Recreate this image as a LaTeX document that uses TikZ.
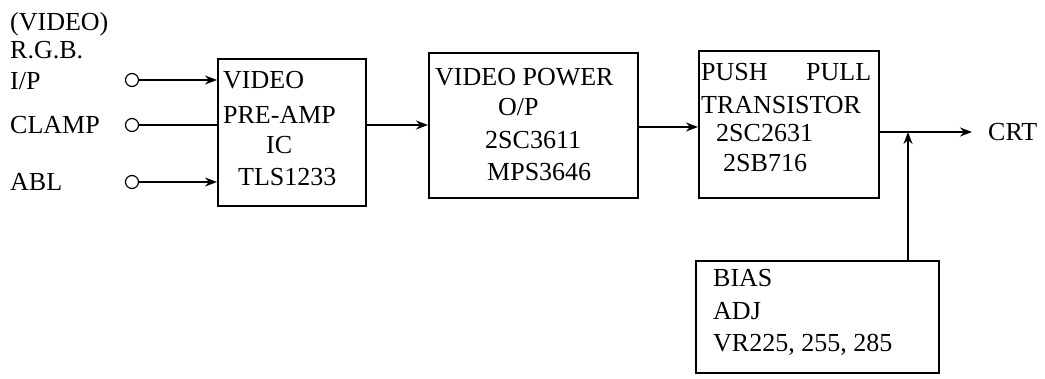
\documentclass[tikz,border=0pt]{standalone}
\usepackage{fontspec}
\setmainfont{Liberation Serif}
\usetikzlibrary{arrows.meta}
\begin{document}
\begin{tikzpicture}[x=1pt,y=-1pt,
  box/.style={draw,line width=1.7pt,inner sep=0pt,anchor=north west},
  lbl/.style={anchor=base west,inner sep=0pt,font=\fontsize{26}{32}\selectfont},
  term/.style={circle,draw,line width=1.2pt,minimum size=13pt,inner sep=0pt},
  wire/.style={line width=1.6pt},
  arr/.style={line width=1.6pt,-{Stealth[length=12pt,width=9pt]}}]
\useasboundingbox (0,0) rectangle (1045,379);
% left labels
\node[lbl] (tvid) at (10,31) {(VIDEO)};
\node[lbl] (trgb) at (10,58.5) {R.G.B.};
\node[lbl] (tip) at (10,90) {I/P};
\node[lbl] (tclamp) at (10,133.5) {CLAMP};
\node[lbl] (tabl) at (10,190.5) {ABL};
% terminals
\node[term] (c1) at (132,80) {};
\node[term] (c2) at (132,125) {};
\node[term] (c3) at (132,182) {};
% boxes
\node[box,minimum width=148pt,minimum height=147pt] (b1) at (217,58) {};
\node[box,minimum width=209pt,minimum height=145pt] (b2) at (428,52) {};
\node[box,minimum width=180pt,minimum height=147pt] (b3) at (698,50) {};
\node[box,minimum width=243pt,minimum height=112pt] (bias) at (695,260) {};
% box 1 text
\node[lbl] (t11) at (223,88.5) {VIDEO};
\node[lbl] (t12) at (223,123.5) {PRE-AMP};
\node[lbl] (t13) at (266,153.5) {IC};
\node[lbl] (t14) at (238,185.5) {TLS1233};
% box 2 text
\node[lbl] (t21) at (435,85.5) {VIDEO POWER};
\node[lbl] (t22) at (498,115.5) {O/P};
\node[lbl] (t23) at (485,148.5) {2SC3611};
\node[lbl] (t24) at (487,180.5) {MPS3646};
% box 3 text
\node[lbl] (t31) at (701,80.5) {PUSH};
\node[lbl] (t31b) at (806,80.5) {PULL};
\node[lbl] (t32) at (701,113.5) {TRANSISTOR};
\node[lbl] (t33) at (716,141.5) {2SC2631};
\node[lbl] (t34) at (723,171.5) {2SB716};
% bias text
\node[lbl] (t41) at (713,287) {BIAS};
\node[lbl] (t42) at (713,320) {ADJ};
\node[lbl] (t43) at (713,352) {VR225, 255, 285};
% CRT
\node[anchor=west,inner xsep=16pt,inner ysep=0pt,font=\fontsize{26}{32}\selectfont] (crt) at (972,132) {CRT};
% connectors
\coordinate (y127) at (0,127);
\coordinate (j) at (908,132);
\draw[arr] (c1.east) -- (c1.east -| b1.west);
\draw[wire] (c2.east) -- (c2.east -| b1.west);
\draw[arr] (c3.east) -- (c3.east -| b1.west);
\draw[arr] (b1.east |- c2) -- (b2.west |- c2);
\draw[arr] (b2.east |- y127) -- (b3.west |- y127);
\draw[arr] (b3.east |- j) -- (crt.west);
\draw[arr] (bias.north -| j) -- (j);
\end{tikzpicture}
\end{document}
